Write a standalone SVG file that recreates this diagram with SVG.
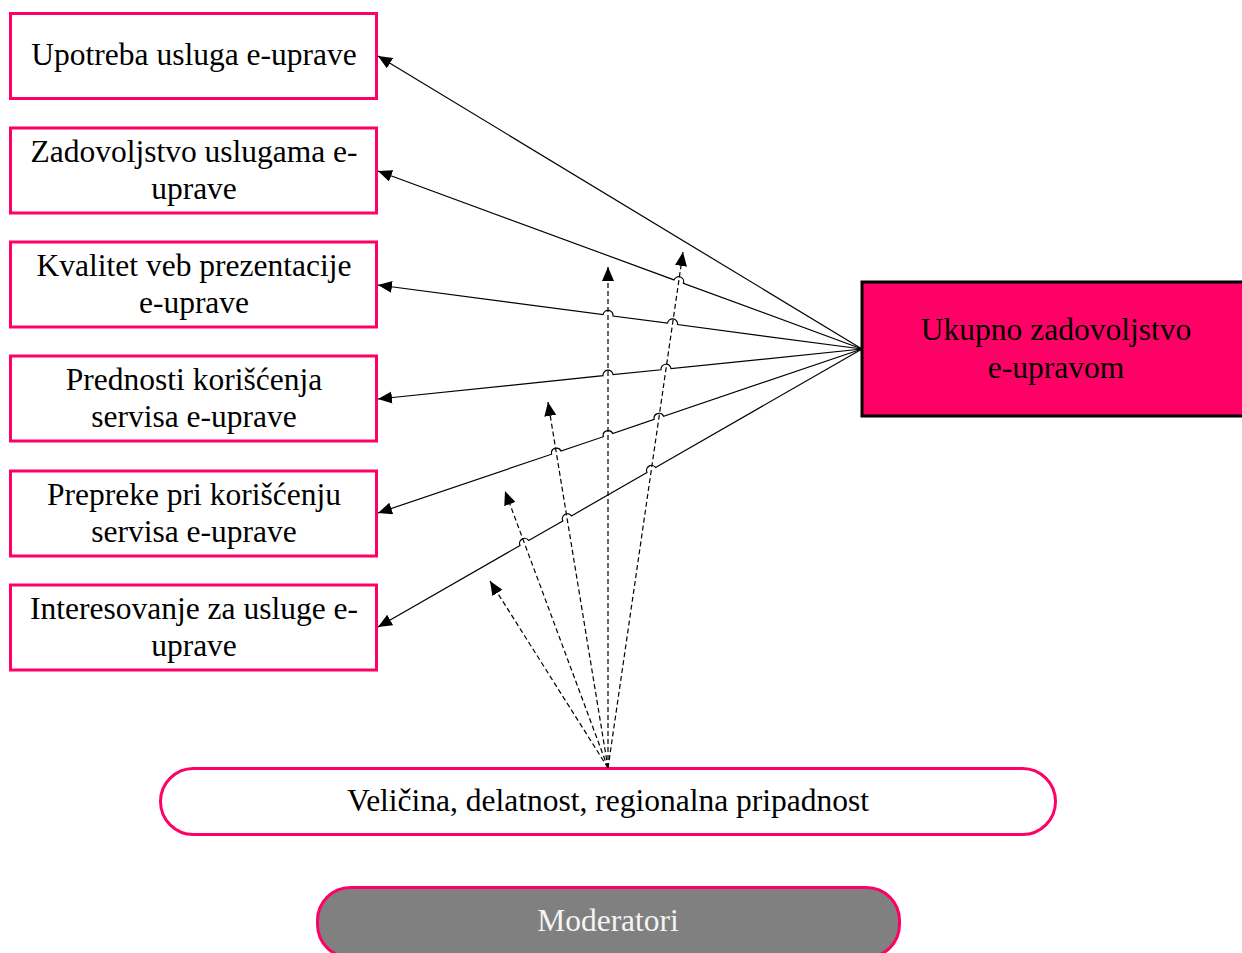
<svg xmlns="http://www.w3.org/2000/svg" width="1242" height="953" viewBox="0 0 1242 953">
<style>
.box{fill:#fff;stroke:#FF0066;stroke-width:3}
.t{font-family:"Liberation Serif","Times New Roman",serif;font-size:31.5px;fill:#000;text-anchor:middle}
.sol{fill:none;stroke:#000;stroke-width:1.2}
.dash{fill:none;stroke:#000;stroke-width:1.2;stroke-dasharray:5 3}
</style>
<defs>
<marker id="ah" markerUnits="userSpaceOnUse" markerWidth="15" markerHeight="13" refX="14" refY="6" orient="auto">
<path d="M0,0 L14,6 L0,12 z" fill="#000"/>
</marker>
</defs>
<rect width="1242" height="953" fill="#fff"/>
<g id="n1"><rect class="box" x="10.5" y="13.5" width="366" height="85"/><text class="t" x="194" y="65">Upotreba usluga e-uprave</text></g>
<g id="n2"><rect class="box" x="10.5" y="128" width="366" height="85"/><text class="t" x="194" y="162">Zadovoljstvo uslugama e-</text><text class="t" x="194" y="199">uprave</text></g>
<g id="n3"><rect class="box" x="10.5" y="242" width="366" height="85"/><text class="t" x="194" y="276">Kvalitet veb prezentacije</text><text class="t" x="194" y="313">e-uprave</text></g>
<g id="n4"><rect class="box" x="10.5" y="356" width="366" height="85"/><text class="t" x="194" y="390">Prednosti korišćenja</text><text class="t" x="194" y="427">servisa e-uprave</text></g>
<g id="n5"><rect class="box" x="10.5" y="471" width="366" height="85"/><text class="t" x="194" y="505">Prepreke pri korišćenju</text><text class="t" x="194" y="542">servisa e-uprave</text></g>
<g id="n6"><rect class="box" x="10.5" y="585" width="366" height="85"/><text class="t" x="194" y="619">Interesovanje za usluge e-</text><text class="t" x="194" y="656">uprave</text></g>
<g id="total"><rect x="862" y="282" width="385" height="134" fill="#FF0066" stroke="#000" stroke-width="3"/><text class="t" x="1056" y="340">Ukupno zadovoljstvo</text><text class="t" x="1056" y="378">e-upravom</text></g>
<g id="factors"><rect class="box" x="160.5" y="768.5" width="895" height="66" rx="33" ry="33"/><text class="t" x="608" y="811">Veličina, delatnost, regionalna pripadnost</text></g>
<g id="moderatori"><rect x="317.5" y="887.5" width="582" height="70" rx="33" ry="33" fill="#808080" stroke="#FF0066" stroke-width="3"/><text class="t" x="608" y="931" style="fill:#f4f4f4">Moderatori</text></g>
<g id="connectors">
<path class="sol" marker-end="url(#ah)" d="M862,349 L378,56"/>
<path class="sol" marker-end="url(#ah)" d="M862,349 L683.4,283.3 A5,5 0 0 0 674.0,279.9 L378,171"/>
<path class="sol" marker-end="url(#ah)" d="M862,349 L677.5,324.6 A5,5 0 0 0 667.5,323.2 L613.0,316.1 A5,5 0 0 0 603.0,314.7 L378,285"/>
<path class="sol" marker-end="url(#ah)" d="M862,349 L671.0,368.7 A5,5 0 0 0 661.0,369.8 L613.0,374.7 A5,5 0 0 0 603.0,375.7 L378,399"/>
<path class="sol" marker-end="url(#ah)" d="M862,349 L663.6,416.2 A5,5 0 0 0 654.2,419.4 L612.7,433.5 A5,5 0 0 0 603.3,436.7 L561.0,451.0 A5,5 0 0 0 551.6,454.2 L378,513"/>
<path class="sol" marker-end="url(#ah)" d="M862,349 L655.6,467.5 A5,5 0 0 0 647.0,472.5 L571.4,515.9 A5,5 0 0 0 562.8,520.9 L528.6,540.5 A5,5 0 0 0 520.0,545.5 L378,627"/>
<path class="dash" marker-end="url(#ah)" d="M608,768 L490,581"/>
<path class="dash" marker-end="url(#ah)" d="M608,768 L505,491"/>
<path class="dash" marker-end="url(#ah)" d="M608,768 L548,402"/>
<path class="dash" marker-end="url(#ah)" d="M608,768 L608,267"/>
<path class="dash" marker-end="url(#ah)" d="M608,768 L683,252"/>
</g>
</svg>
